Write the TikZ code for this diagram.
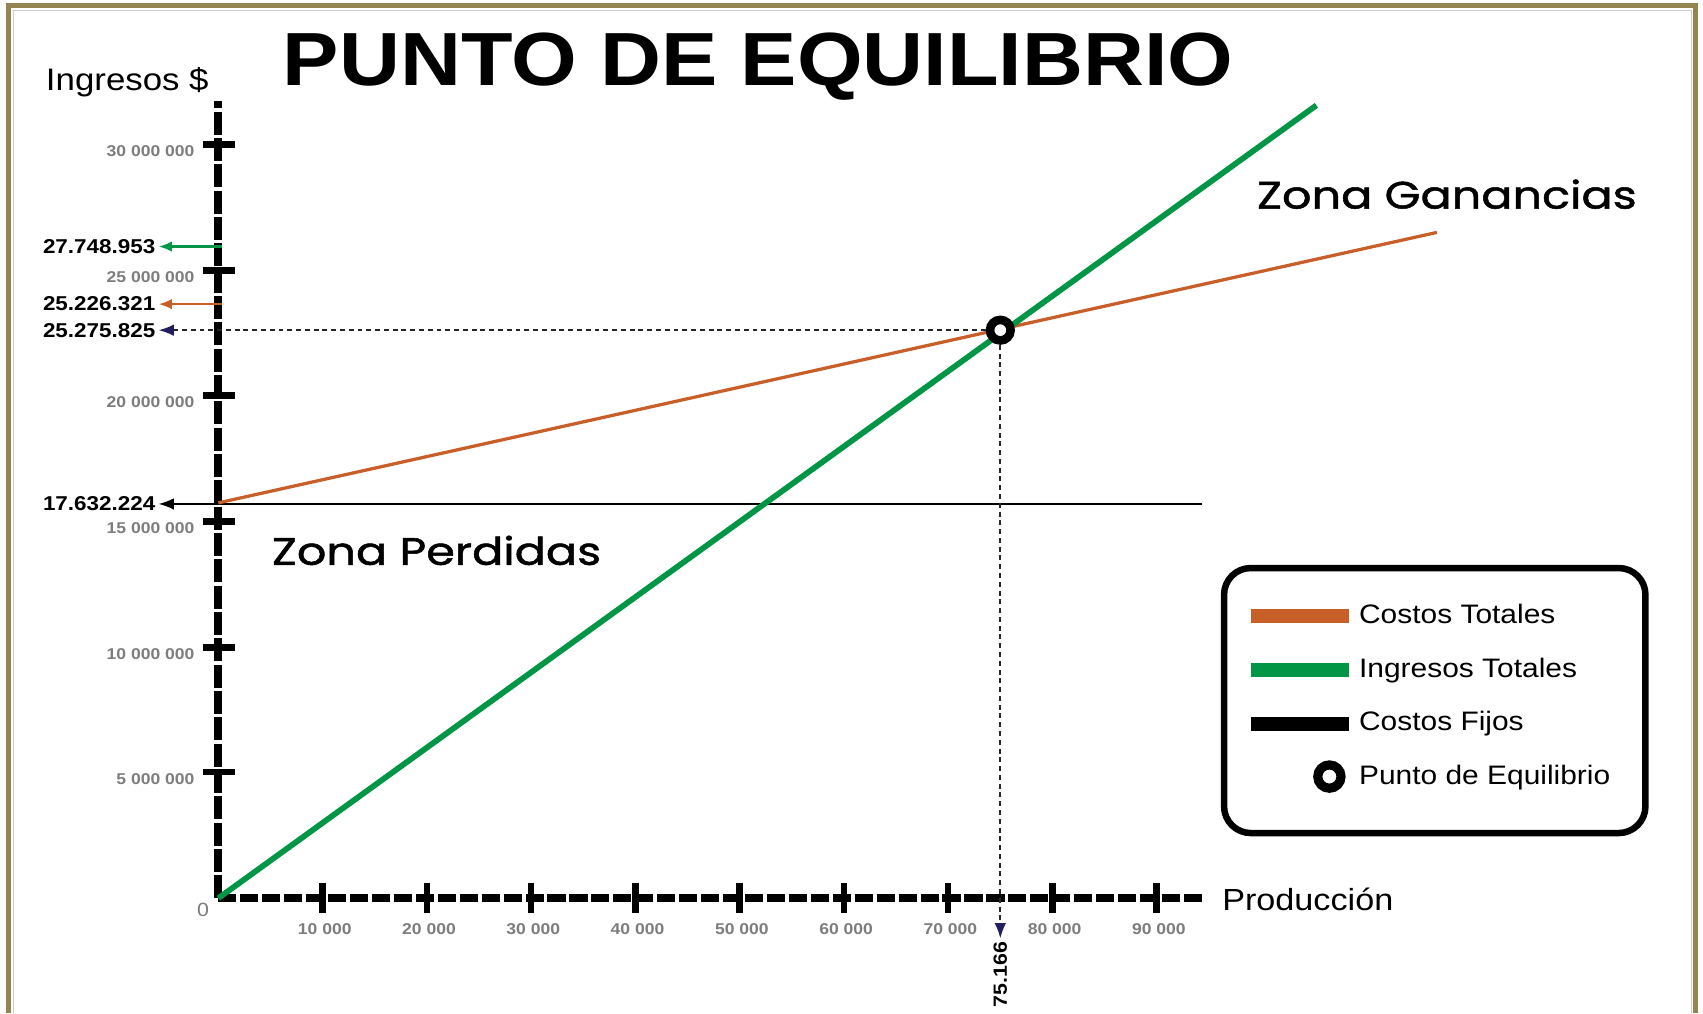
\documentclass[tikz,border=0pt]{standalone}
\usepackage{fontspec}
\setmainfont{Liberation Sans}[FakeStretch=1.12]
\newfontfamily\zonafont{Poppins}[FakeStretch=1.21, FakeBold=1.3]
\usetikzlibrary{arrows.meta,positioning}

\definecolor{ctcol}{RGB}{200,95,40}
\definecolor{itcol}{RGB}{0,150,70}
\definecolor{pecol}{RGB}{35,30,95}
\definecolor{framecol}{RGB}{147,132,82}
\definecolor{labcol}{RGB}{125,125,125}

\tikzset{
    yaxis/.style={line width=4pt, dash pattern=on 12pt off 1.8pt},
    xaxis/.style={line width=4pt, dash pattern=on 9.5pt off 2pt},
    tick/.style={line width=3.4pt},
    ylab/.style={anchor=east, inner sep=0, text=labcol, font=\bfseries\fontsize{8.2}{9}\selectfont},
    xlab/.style={inner sep=0, text=labcol, font=\bfseries\fontsize{8.2}{9}\selectfont},
    val/.style={anchor=east, inner sep=1.5pt, font=\bfseries\fontsize{10.5}{12}\selectfont},
    refline/.style={black!85, line width=0.9pt, dash pattern=on 2.6pt off 2pt, -{Latex[length=8pt,width=6pt,color=pecol]}},
    pe/.style={circle, draw, line width=4.5pt, fill=white, minimum size=10.8pt, inner sep=0},
    bar/.style={minimum width=1.8cm, minimum height=0.26cm, inner sep=0},
    legtext/.style={anchor=base west, inner sep=0, font=\fontsize{14}{16}\selectfont},
    zona/.style={anchor=base west, inner sep=0, font=\zonafont\fontsize{20}{24}\selectfont}
}

\begin{document}
\begin{tikzpicture}[x=0.02cm, y=-0.02cm]

    \useasboundingbox (0,0) rectangle (1568,933);
    \fill[white] (0,0) rectangle (1568,933);

    % marco
    \draw[framecol, line width=2.6pt] (7.5,933) -- (7.5,5.5) -- (1561,5.5) -- (1561,933);
    \draw[black!20, line width=0.5pt] (12,933) -- (12,10) -- (1557,10) -- (1557,933);

    \node[anchor=base, inner sep=0, font=\bfseries\fontsize{39.5}{44}\selectfont] (title) at (698,79) {PUNTO DE EQUILIBRIO};

    % ejes
    \coordinate (O) at (201,827);
    \coordinate (ytop) at (201,93);
    \coordinate (xend) at (1108,827);
    \draw[yaxis] (O) -- (ytop);
    \draw[xaxis] (O) -- (xend);

    \node[anchor=base west, inner sep=0, font=\fontsize{16.3}{18}\selectfont] (ylabel) at (42,83.5) {Ingresos \$};
    \node[anchor=base west, inner sep=0, font=\fontsize{16}{18}\selectfont] (xlabel) at (1125,838.5) {Producción};
    \node[inner sep=0, text=labcol, font=\fontsize{10}{12}\selectfont] (zero) at (187,838) {0};

    \draw[tick] (187,133) -- (216,133) node[ylab] (y30) at (182,139) {30 000 000};
    \draw[tick] (187,249) -- (216,249) node[ylab] (y25) at (182,255) {25 000 000};
    \draw[tick] (187,364) -- (216,364) node[ylab] (y20) at (182,370) {20 000 000};
    \draw[tick] (187,480) -- (216,480) node[ylab] (y15) at (182,486) {15 000 000};
    \draw[tick] (187,596) -- (216,596) node[ylab] (y10) at (182,602) {10 000 000};
    \draw[tick] (187,711) -- (216,711) node[ylab] (y5) at (182,717) {5 000 000};

    \draw[tick] (297,813) -- (297,841) node[xlab] (x10) at (299,855) {10 000};
    \draw[tick] (393,813) -- (393,841) node[xlab] (x20) at (395,855) {20 000};
    \draw[tick] (489,813) -- (489,841) node[xlab] (x30) at (491,855) {30 000};
    \draw[tick] (585,813) -- (585,841) node[xlab] (x40) at (587,855) {40 000};
    \draw[tick] (681,813) -- (681,841) node[xlab] (x50) at (683,855) {50 000};
    \draw[tick] (777,813) -- (777,841) node[xlab] (x60) at (779,855) {60 000};
    \draw[tick] (873,813) -- (873,841) node[xlab] (x70) at (875,855) {70 000};
    \draw[tick] (969,813) -- (969,841) node[xlab] (x80) at (971,855) {80 000};
    \draw[tick] (1065,813) -- (1065,841) node[xlab] (x90) at (1067,855) {90 000};

    % valores
    \node[val] (v27) at (146,227) {27.748.953};
    \node[val] (v25a) at (146,280) {25.226.321};
    \node[val] (v25b) at (146,304) {25.275.825};
    \node[val] (v17) at (146,464) {17.632.224};
    \node[val, rotate=90, font=\bfseries\fontsize{10}{12}\selectfont] (v75) at (921,864) {75.166};

    \coordinate (a27) at (204,227);
    \coordinate (a25) at (204,280);
    \coordinate (cf0) at (201,463);
    \coordinate (cfend) at (1107,464);
    \coordinate (ctend) at (1323,214);
    \coordinate (itend) at (1212,97);

    \draw[itcol, line width=1.3pt, -{Latex[length=7pt,width=5.5pt]}] (a27) -- (v27);
    \draw[ctcol, line width=1.3pt, -{Latex[length=7pt,width=5.5pt]}] (a25) -- (v25a);
    \draw[line width=0.9pt, -{Latex[length=8pt,width=6pt]}] (cfend) -- (v17);

    % rectas
    \draw[ctcol, line width=1.7pt] (cf0) -- (ctend);
    \draw[itcol, line width=3pt] (O) -- (itend);

    \node[pe] (pe) at (921,304) {};
    \draw[refline] (pe) -- (v25b);
    \draw[refline] (pe) -- (v75);

    \node[zona] (zg) at (1157,192) {Zona Ganancias};
    \node[zona] (zp) at (250,520) {Zona Perdidas};

    % leyenda
    \draw[line width=3.4pt, rounded corners=14pt] (1127,523) rectangle (1515,767);
    \node[bar, fill=ctcol] (bct) at (1197,567) {};
    \node[bar, fill=itcol] (bit) at (1197,617) {};
    \node[bar, fill=black] (bcf) at (1197,667) {};
    \node[pe, minimum size=12.2pt, line width=4.8pt] (lpe) at (1224,715) {};
    \node[legtext] (lct) at (1251,574.5) {Costos Totales};
    \node[legtext] (lit) at (1251,624) {Ingresos Totales};
    \node[legtext] (lcf) at (1251,673) {Costos Fijos};
    \node[legtext] (lpet) at (1251,722) {Punto de Equilibrio};

\end{tikzpicture}
\end{document}
